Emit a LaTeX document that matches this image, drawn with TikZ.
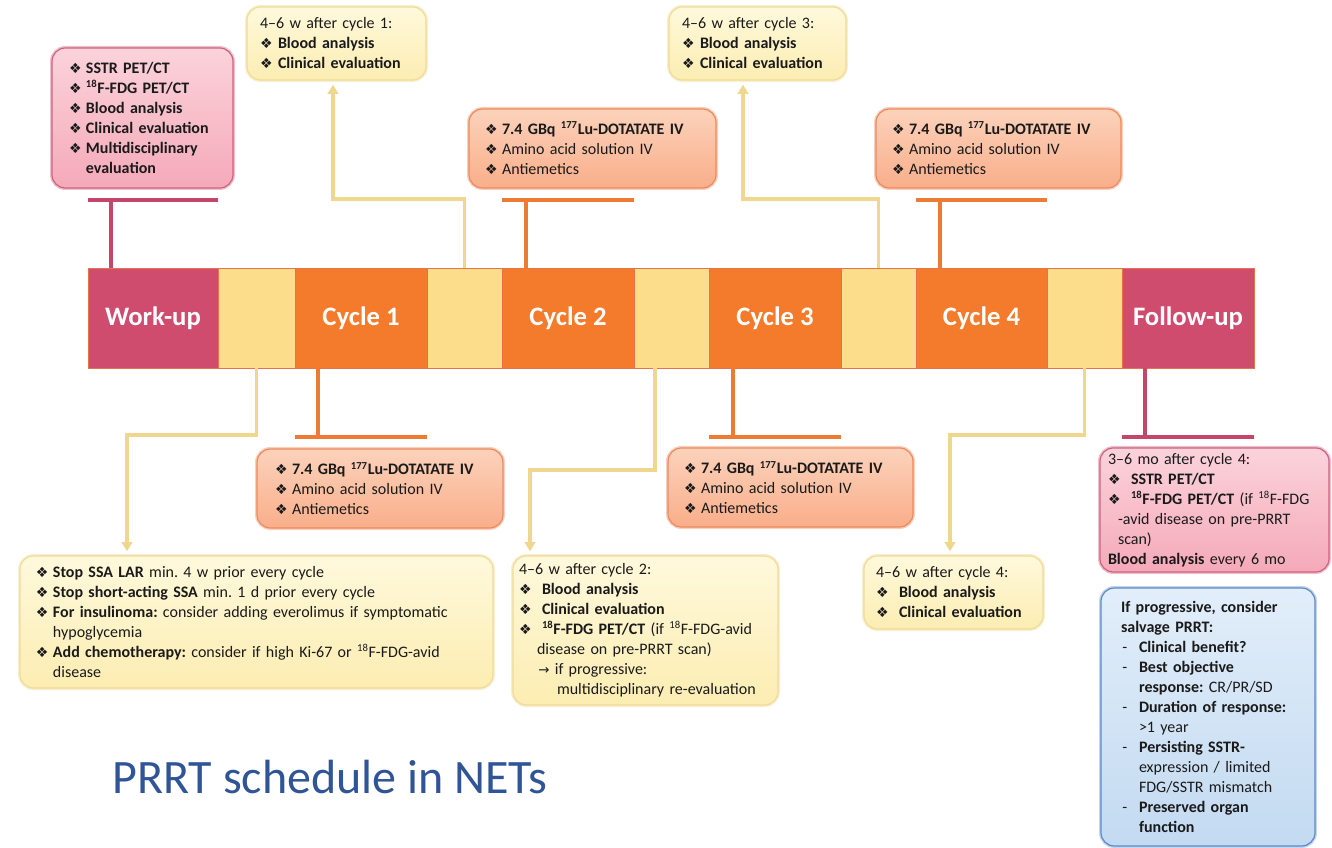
\documentclass[tikz,border=0pt]{standalone}
\usepackage{fontspec}
\setmainfont{Carlito}
\newfontfamily\dejavu{DejaVu Sans}
\usetikzlibrary{arrows.meta}
\frenchspacing
\definecolor{mag}{HTML}{CF4C6E}
\definecolor{org}{HTML}{F47B2B}
\definecolor{ylw}{HTML}{FCDD8C}
\definecolor{barline}{HTML}{E8724A}
\definecolor{magline}{HTML}{C4466A}
\definecolor{orgline}{HTML}{EE7B33}
\definecolor{ylwline}{HTML}{EFD88E}
\definecolor{pinkT}{HTML}{FBD3DB}
\definecolor{pinkB}{HTML}{F5A9B9}
\definecolor{pinkD}{HTML}{D0617F}
\definecolor{orgT}{HTML}{FCD2BB}
\definecolor{orgB}{HTML}{F9AE8A}
\definecolor{orgD}{HTML}{EC8A5C}
\definecolor{ylwT}{HTML}{FFF9DC}
\definecolor{ylwB}{HTML}{FCEDB2}
\definecolor{ylwD}{HTML}{F0DB98}
\definecolor{bluT}{HTML}{E2EEFA}
\definecolor{bluB}{HTML}{C3DAF1}
\definecolor{bluD}{HTML}{5A8AC6}
\definecolor{txt}{HTML}{1A1A1A}
\definecolor{ttl}{HTML}{2F5597}
\newcommand\bul[1][12.75pt]{\makebox[#1][l]{\dejavu\fontsize{10.5}{10}\selectfont ❖}}
\newcommand\bulw{\bul[17.25pt]}
\newcommand\ind[1][12.75pt]{\hspace*{#1}}
\newcommand\dsh{\makebox[13.5pt][l]{\hspace{1pt}-}}
\newcommand\arr{{\dejavu\fontsize{10}{10}\selectfont →}}
\newcommand\sq[1]{\textsuperscript{#1}}
\begin{document}
\begin{tikzpicture}[x=0.75pt,y=-0.75pt,
  seg/.style={draw=barline, line width=0.6pt, minimum height=75pt, inner sep=0pt,
    font=\fontsize{20}{24}\selectfont\bfseries, text=white},
  bx/.style={rounded corners=10pt, line width=0.9pt, align=left,
    font=\fontsize{12}{15}\selectfont, text=txt, inner ysep=0pt},
  pinkbox/.style={bx, draw=pinkD, top color=pinkT, bottom color=pinkB,
    preaction={draw=pinkD!40, line width=3pt}},
  orgbox/.style={bx, draw=orgD, top color=orgT, bottom color=orgB,
    preaction={draw=orgD!40, line width=3pt}},
  ylwbox/.style={bx, draw=ylwD, top color=ylwT, bottom color=ylwB,
    preaction={draw=ylwD!45, line width=3pt}},
  blubox/.style={bx, draw=bluD, top color=bluT, bottom color=bluB,
    preaction={draw=bluD!35, line width=3pt}},
  mline/.style={draw=magline, line width=2.3pt},
  oline/.style={draw=orgline, line width=2.3pt},
  yarr/.style={draw=ylwline, line width=2.3pt, shorten >=3pt,
    -{Triangle[width=8pt,length=7pt]}}
]
\useasboundingbox (0,0) rectangle (1332,848);

% timeline bar
\node[seg, fill=mag, minimum width=97.5pt] (wu) at (153,318) {Work-up};
\node[seg, fill=ylw, minimum width=57.75pt] (y0) at (256.5,318) {};
\node[seg, fill=org, minimum width=99pt] (c1) at (361,318) {Cycle 1};
\node[seg, fill=ylw, minimum width=56.25pt] (y1) at (464.5,318) {};
\node[seg, fill=org, minimum width=99pt] (c2) at (568,318) {Cycle 2};
\node[seg, fill=ylw, minimum width=56.25pt] (y2) at (671.5,318) {};
\node[seg, fill=org, minimum width=99pt] (c3) at (775,318) {Cycle 3};
\node[seg, fill=ylw, minimum width=56.25pt] (y3) at (878.5,318) {};
\node[seg, fill=org, minimum width=98.25pt] (c4) at (981.5,318) {Cycle 4};
\node[seg, fill=ylw, minimum width=56.25pt] (y4) at (1084.5,318) {};
\node[seg, fill=mag, minimum width=99pt] (fu) at (1188,318) {Follow-up};

% boxes
\node[pinkbox, minimum width=135.75pt, minimum height=105pt, inner xsep=12.75pt, text width=110.25pt]
  (b1) at (142.5,118) {\bfseries
  \bul SSTR PET/CT\\
  \bul\sq{18}F-FDG PET/CT\\
  \bul Blood analysis\\
  \bul Clinical evaluation\\
  \bul Multidisciplinary\\
  \ind evaluation};

\node[ylwbox, minimum width=134.25pt, minimum height=54.75pt, inner xsep=9.75pt, text width=114.75pt]
  (b2) at (336.5,43.5) {4–6 w after cycle 1:\\
  \bul[13.5pt]\textbf{Blood analysis}\\
  \bul[13.5pt]\textbf{Clinical evaluation}};

\node[orgbox, minimum width=185.25pt, minimum height=59.25pt, inner xsep=12pt, text width=161.25pt]
  (b3) at (592.5,148.5) {\bul\textbf{7.4 GBq \sq{177}Lu-DOTATATE IV}\\
  \bul Amino acid solution IV\\
  \bul Antiemetics};

\node[ylwbox, minimum width=132.75pt, minimum height=54.75pt, inner xsep=9.75pt, text width=113.25pt]
  (b4) at (757.5,43.5) {4–6 w after cycle 3:\\
  \bul[13.5pt]\textbf{Blood analysis}\\
  \bul[13.5pt]\textbf{Clinical evaluation}};

\node[orgbox, minimum width=183.75pt, minimum height=59.25pt, inner xsep=12pt, text width=159.75pt]
  (b5) at (998.5,148.5) {\bul\textbf{7.4 GBq \sq{177}Lu-DOTATATE IV}\\
  \bul Amino acid solution IV\\
  \bul Antiemetics};

\node[orgbox, minimum width=184.5pt, minimum height=59.25pt, inner xsep=13.5pt, text width=157.5pt]
  (b6) at (380,488.5) {\bul\textbf{7.4 GBq \sq{177}Lu-DOTATATE IV}\\
  \bul Amino acid solution IV\\
  \bul Antiemetics};

\node[orgbox, minimum width=183.75pt, minimum height=59.25pt, inner xsep=12pt, text width=159.75pt]
  (b7) at (790.5,487.5) {\bul\textbf{7.4 GBq \sq{177}Lu-DOTATATE IV}\\
  \bul Amino acid solution IV\\
  \bul Antiemetics};

\node[ylwbox, minimum width=354.75pt, minimum height=99pt, inner xsep=12pt, text width=330.75pt]
  (b8) at (256.5,622) {\bul\textbf{Stop SSA LAR} min. 4 w prior every cycle\\
  \bul\textbf{Stop short-acting SSA} min. 1 d prior every cycle\\
  \bul\mbox{\textbf{For insulinoma:} consider adding everolimus if symptomatic}\\
  \ind hypoglycemia\\
  \bul\mbox{\textbf{Add chemotherapy:} consider if high Ki-67 or \sq{18}F-FDG-avid}\\
  \ind disease};

\node[ylwbox, minimum width=198.75pt, minimum height=111.75pt, inner xsep=4.5pt, text width=189.75pt]
  (b9) at (645.5,630.5) {4–6 w after cycle 2:\\
  \bulw\textbf{Blood analysis}\\
  \bulw\textbf{Clinical evaluation}\\
  \bulw\mbox{\textbf{\sq{18}F-FDG PET/CT} (if \sq{18}F-FDG-avid}\\
  \ind[13.5pt]disease on pre-PRRT scan)\\
  \ind[14.5pt]\arr\ if progressive:\\
  \ind[28.5pt]multidisciplinary re-evaluation};

\node[ylwbox, minimum width=134.25pt, minimum height=54.75pt, inner xsep=9pt, text width=116.25pt]
  (b10) at (953.5,592.5) {4–6 w after cycle 4:\\
  \bulw\textbf{Blood analysis}\\
  \bulw\textbf{Clinical evaluation}};

\node[pinkbox, minimum width=171.75pt, minimum height=93pt, inner xsep=6pt, text width=159.75pt]
  (b11) at (1214.5,510) {3–6 mo after cycle 4:\\
  \bulw\textbf{SSTR PET/CT}\\
  \bulw\mbox{\textbf{\sq{18}F-FDG PET/CT} (if \sq{18}F-FDG}\\
  \ind[7.5pt]-avid disease on pre-PRRT\\
  \ind[7.5pt]scan)\\
  \textbf{Blood analysis} every 6 mo};

\node[blubox, minimum width=160.5pt, minimum height=193.5pt, inner xsep=15pt, text width=130.5pt]
  (b12) at (1208,717) {\textbf{If progressive, consider}\\
  \textbf{salvage PRRT:}\\
  \dsh\textbf{Clinical benefit?}\\
  \dsh\textbf{Best objective}\\
  \ind[13.5pt]\textbf{response:} CR/PR/SD\\
  \dsh\mbox{\textbf{Duration of response:}}\\
  \ind[13.5pt]>1 year\\
  \dsh\textbf{Persisting SSTR-}\\
  \ind[13.5pt]expression / limited\\
  \ind[13.5pt]FDG/SSTR mismatch\\
  \dsh\textbf{Preserved organ}\\
  \ind[13.5pt]\textbf{function}};

% title
\node[font=\fontsize{36}{42}\selectfont, text=ttl, inner sep=0pt] (title) at (330,777) {PRRT schedule in NETs};

% T connectors
\coordinate (twu) at (111,200);
\draw[mline] (wu.north -| twu) -- (twu);
\draw[mline] (wu.west |- twu) -- (wu.east |- twu);

\coordinate (tc1) at (318,437);
\draw[oline] (c1.south -| tc1) -- (tc1);
\draw[oline] (c1.west |- tc1) -- (c1.east |- tc1);

\coordinate (tc2) at (526,200);
\draw[oline] (c2.north -| tc2) -- (tc2);
\draw[oline] (c2.west |- tc2) -- (c2.east |- tc2);

\coordinate (tc3) at (733,437);
\draw[oline] (c3.south -| tc3) -- (tc3);
\draw[oline] (c3.west |- tc3) -- (c3.east |- tc3);

\coordinate (tc4) at (940,200);
\draw[oline] (c4.north -| tc4) -- (tc4);
\draw[oline] (c4.west |- tc4) -- (c4.east |- tc4);

\coordinate (tfu) at (1145,437);
\draw[mline] (fu.south -| tfu) -- (tfu);
\draw[mline] (fu.west |- tfu) -- (fu.east |- tfu);

% yellow arrows
\coordinate (k1) at (333,199);
\draw[yarr] (y1.north) |- (k1) -- (k1 |- b2.south);
\coordinate (k3) at (743,199);
\draw[yarr] (y3.north) |- (k3) -- (k3 |- b4.south);
\coordinate (k0) at (127,435);
\draw[yarr] (y0.south) |- (k0) -- (k0 |- b8.north);
\coordinate (k2v) at (655,470);
\coordinate (k2) at (530,470);
\draw[yarr] (y2.south -| k2v) -- (k2v) -- (k2) -- (k2 |- b9.north);
\coordinate (k4) at (950,435);
\draw[yarr] (y4.south) |- (k4) -- (k4 |- b10.north);
\end{tikzpicture}
\end{document}
